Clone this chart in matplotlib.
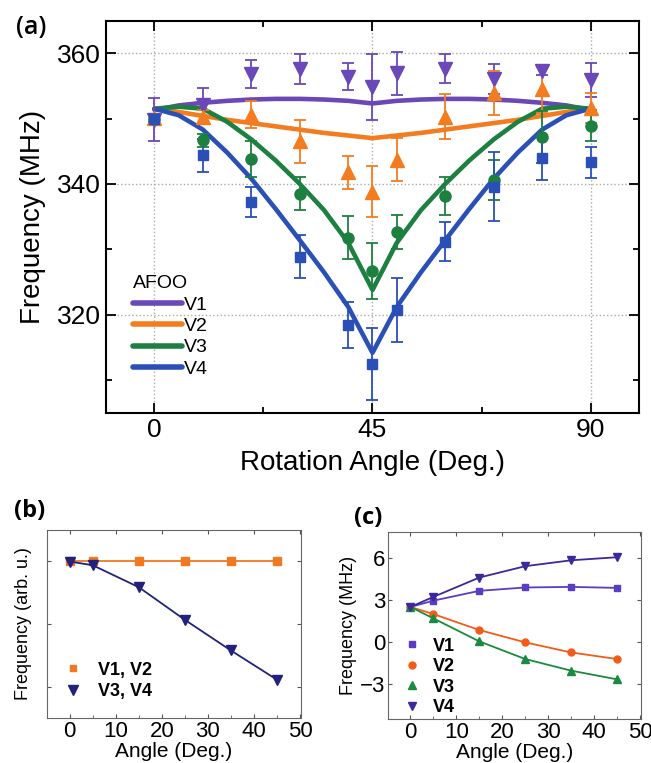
import numpy as np
import matplotlib.pyplot as plt
from matplotlib.lines import Line2D

plt.rcParams['font.family'] = ['Liberation Sans', 'DejaVu Sans']

# --- (a) measured frequencies vs rotation angle ---
angles = [0, 10, 20, 30, 40, 45, 50, 60, 70, 80, 90]
v1_meas = [349.8, 352.0, 356.8, 357.6, 356.4, 354.8, 356.9, 357.6, 356.1, 357.2, 355.9]
v1_err = [3.3, 2.7, 2.1, 2.3, 2.1, 5.0, 3.3, 2.2, 2.3, 0.6, 2.6]
v2_meas = [350.1, 350.3, 350.6, 346.5, 341.8, 338.8, 343.7, 350.3, 353.9, 354.5, 351.6]
v2_err = [0.6, 1.0, 2.1, 3.3, 2.5, 3.9, 3.3, 3.4, 3.3, 3.6, 2.3]
v3_meas = [350.0, 346.7, 343.8, 338.5, 331.8, 326.7, 332.6, 338.1, 340.6, 347.2, 348.9]
v3_err = [0.5, 1.0, 2.7, 2.5, 3.3, 4.3, 2.6, 2.9, 3.0, 4.0, 2.4]
v4_meas = [350.0, 344.4, 337.3, 328.9, 318.5, 312.5, 320.8, 331.2, 339.6, 343.9, 343.3]
v4_err = [0.5, 2.5, 2.3, 3.3, 3.5, 5.5, 4.9, 3.0, 5.3, 3.3, 2.4]

# fitted curves
fit_angles = [0, 5, 10, 15, 20, 25, 30, 35, 40, 45, 50, 55, 60, 65, 70, 75, 80, 85, 90]
v1_fit = [351.3, 352.0, 352.4, 352.7, 352.9, 353.0, 353.0, 352.9, 352.7, 352.3,
          352.7, 352.9, 353.0, 353.0, 352.9, 352.7, 352.4, 352.0, 351.3]
v2_fit = [351.5, 351.0, 350.4, 349.8, 349.3, 348.8, 348.3, 347.8, 347.4, 347.0,
          347.4, 347.8, 348.3, 348.8, 349.3, 349.8, 350.4, 351.0, 351.5]
v3_fit = [351.5, 351.8, 351.5, 349.5, 346.8, 343.6, 340.0, 336.0, 331.0, 323.8,
          331.0, 336.0, 340.0, 343.6, 346.8, 349.5, 351.5, 351.8, 351.5]
v4_fit = [351.5, 350.5, 348.3, 344.8, 340.8, 336.2, 331.4, 326.5, 321.2, 314.2,
          321.2, 326.5, 331.4, 336.2, 340.8, 344.8, 348.3, 350.5, 351.5]

# --- (b) and (c) simulated shifts ---
sim_angles = [0, 5, 15, 25, 35, 45]
b_v12 = [1.0, 1.0, 1.0, 1.0, 1.0, 1.0]
b_v34 = [0.995, 0.966, 0.792, 0.533, 0.29, 0.058]
c_v1 = [2.5, 2.95, 3.65, 3.89, 3.93, 3.86]
c_v2 = [2.5, 1.99, 0.85, -0.03, -0.75, -1.22]
c_v3 = [2.5, 1.68, 0.04, -1.22, -2.05, -2.67]
c_v4 = [2.5, 3.22, 4.6, 5.41, 5.83, 6.05]

purple = '#6a48b8'
orange = '#f47c20'
green = '#1d8040'
blue = '#2a50b8'

fig = plt.figure(figsize=(6.51, 7.63), dpi=100)

# ---------------- panel (a) ----------------
ax = fig.add_axes([106/651, 1-413/763, 533/651, 392/763])
fits = [(v1_fit, purple, 'V1'), (v2_fit, orange, 'V2'), (v3_fit, green, 'V3'), (v4_fit, blue, 'V4')]
for f, c, lab in fits:
    ax.plot(fit_angles, f, color=c, lw=3.3, solid_capstyle='round', zorder=3)

meas = [(v1_meas, v1_err, purple, 'v', 9.5), (v2_meas, v2_err, orange, '^', 9.5),
        (v3_meas, v3_err, green, 'o', 8), (v4_meas, v4_err, blue, 's', 7.5)]
for m, e, c, mk, size in meas:
    ax.errorbar(angles, m, yerr=e, fmt=mk, color=c, ms=size, capsize=4.5,
                elinewidth=1.3, capthick=1.3, zorder=4)

ax.set_xlim(-10, 100)
ax.set_ylim(305, 364.9)
ax.set_xticks([0, 45, 90])
ax.set_xticks([22.5, 67.5], minor=True)
ax.set_yticks([320, 340, 360])
ax.set_yticks([310, 330, 350], minor=True)
ax.tick_params(which='both', direction='in', top=True, right=True, labelsize=19, width=1.3)
ax.tick_params(which='major', length=7)
ax.tick_params(which='minor', length=4)
ax.grid(True, which='major', linestyle=':', color='#aaaaaa', lw=1)
for s in ax.spines.values():
    s.set_linewidth(1.5)
ax.set_xlabel('Rotation Angle (Deg.)', fontsize=20, labelpad=6)
ax.set_ylabel('Frequency (MHz)', fontsize=20, labelpad=8)

handles = [Line2D([], [], color=c, lw=4, solid_capstyle='round') for f, c, lab in fits]
leg = ax.legend(handles, [lab for f, c, lab in fits], title='AFOO', loc='upper left',
                bbox_to_anchor=(133/651, 1-275/763), bbox_transform=fig.transFigure,
                frameon=False, fontsize=14, title_fontsize=14, handlelength=2.5,
                handletextpad=0.1, labelspacing=0.2, borderpad=0, borderaxespad=0,
                alignment='left')

fig.text(16/651, 1-27/763, '(a)', fontsize=18, family='Open Sans', weight='semibold', va='center')


def small_panel(axs):
    axs.set_xlim(-4.9, 50.2)
    axs.set_xticks([0, 10, 20, 30, 40, 50])
    axs.tick_params(direction='in', top=True, right=True, length=3, labelsize=16,
                    pad=2, color='#555555')
    axs.set_xticks([5, 15, 25, 35, 45], minor=True)
    axs.tick_params(which='minor', direction='in', length=2, top=False, color='#555555')
    for s in axs.spines.values():
        s.set_color('#666666')
    axs.set_xlabel('Angle (Deg.)', fontsize=15, labelpad=0)


# ---------------- panel (b) ----------------
axb = fig.add_axes([47/651, 1-718/763, 254/651, 188/763])
axb.plot(sim_angles, b_v12, color='#f07820', marker='s', ms=5.5, lw=1.3)
axb.plot(sim_angles, b_v34, color='#22227a', marker='v', ms=7, lw=1.3)
axb.set_ylim(-0.245, 1.245)
axb.set_yticks([0, 0.5, 1.0])
small_panel(axb)
axb.set_yticklabels([])
axb.set_ylabel('Frequency (arb. u.)', fontsize=13)
axb.yaxis.set_label_coords(-15/254, 0.5)
hb = [Line2D([], [], ls='none', color='#f07820', marker='s', ms=5),
      Line2D([], [], ls='none', color='#22227a', marker='v', ms=7)]
axb.legend(hb, ['V1, V2', 'V3, V4'], loc='center left', bbox_to_anchor=(20/254, 37/188),
           frameon=False, prop={'size': 13, 'weight': 'bold'}, handlelength=0.7,
           handletextpad=1.0, labelspacing=0.25, borderpad=0, borderaxespad=0)
fig.text(14/651, 1-511/763, '(b)', fontsize=17, weight='bold', family='Open Sans', va='center')

# ---------------- panel (c) ----------------
axc = fig.add_axes([388/651, 1-719/763, 253/651, 187/763])
axc.plot(sim_angles, c_v1, color='#5b3cc4', marker='s', ms=4.5, lw=1.3)
axc.plot(sim_angles, c_v2, color='#f25c19', marker='o', ms=5, lw=1.3)
axc.plot(sim_angles, c_v3, color='#1a8a40', marker='^', ms=6, lw=1.3)
axc.plot(sim_angles, c_v4, color='#3a2a9a', marker='v', ms=6, lw=1.3)
axc.set_ylim(-5.5, 7.85)
axc.set_yticks([-3, 0, 3, 6])
small_panel(axc)
axc.set_ylabel('Frequency (MHz)', fontsize=13)
axc.yaxis.set_label_coords(-31/253, 0.5)
hc = [Line2D([], [], ls='none', color='#5b3cc4', marker='s', ms=4),
      Line2D([], [], ls='none', color='#f25c19', marker='o', ms=5),
      Line2D([], [], ls='none', color='#1a8a40', marker='^', ms=6),
      Line2D([], [], ls='none', color='#3a2a9a', marker='v', ms=6)]
axc.legend(hc, ['V1', 'V2', 'V3', 'V4'], loc='center left', bbox_to_anchor=(18/253, 42/187),
           frameon=False, prop={'size': 13, 'weight': 'bold'}, handlelength=0.7,
           handletextpad=0.8, labelspacing=0.2, borderpad=0, borderaxespad=0)
fig.text(354/651, 1-518/763, '(c)', fontsize=17, weight='bold', family='Open Sans', va='center')

fig.savefig('out.png', dpi=100)
